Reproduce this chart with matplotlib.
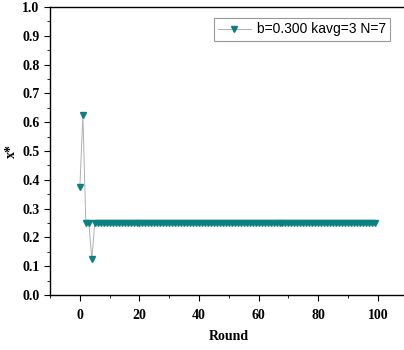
import numpy as np
import matplotlib.pyplot as plt
from matplotlib.ticker import MultipleLocator

# data
rounds = np.arange(0, 100)
start_vals = [0.375, 0.625, 0.25, 0.25, 0.125]
steady_val = 0.25
x_star = np.array(start_vals + [steady_val] * (len(rounds) - len(start_vals)))

label = "b=0.300 kavg=3 N=7"

plt.rcParams["font.family"] = ["Liberation Serif", "DejaVu Serif"]
plt.rcParams["font.weight"] = "bold"

fig = plt.figure(figsize=(4.04, 3.5), dpi=100)
ax = fig.add_axes([0.124, 0.157, 0.885, 0.823])

ax.plot(rounds, x_star, color="#b0b0b0", lw=0.7, marker="v",
        markersize=5, markerfacecolor="#0a8080", markeredgecolor="#0a8080",
        label=label)

ax.set_xlim(-10, 110)
ax.set_ylim(0, 1.0)
ax.xaxis.set_major_locator(MultipleLocator(20))
ax.xaxis.set_minor_locator(MultipleLocator(10))
ax.yaxis.set_major_locator(MultipleLocator(0.1))
ax.yaxis.set_minor_locator(MultipleLocator(0.05))
ax.tick_params(which="both", direction="out", labelsize=10, top=False, right=False)
ax.tick_params(which="major", length=4)
ax.tick_params(which="minor", length=2)
ax.tick_params(axis="x", pad=6)
ax.spines["right"].set_visible(False)
for s in ax.spines.values():
    s.set_linewidth(1.0)

ax.set_xlabel("Round", fontsize=10, fontweight="bold", labelpad=6)
ax.set_ylabel("x*", fontsize=10, fontweight="bold", labelpad=3)

leg = ax.legend(loc="upper right", bbox_to_anchor=(0.97, 0.985),
                prop={"family": "Liberation Sans", "size": 10, "weight": "normal"},
                frameon=True, fancybox=False, handlelength=2.4,
                borderpad=0.3, handletextpad=0.4)
leg.get_frame().set_edgecolor("#808080")
leg.get_frame().set_linewidth(0.8)

fig.savefig("out.png", dpi=100)
